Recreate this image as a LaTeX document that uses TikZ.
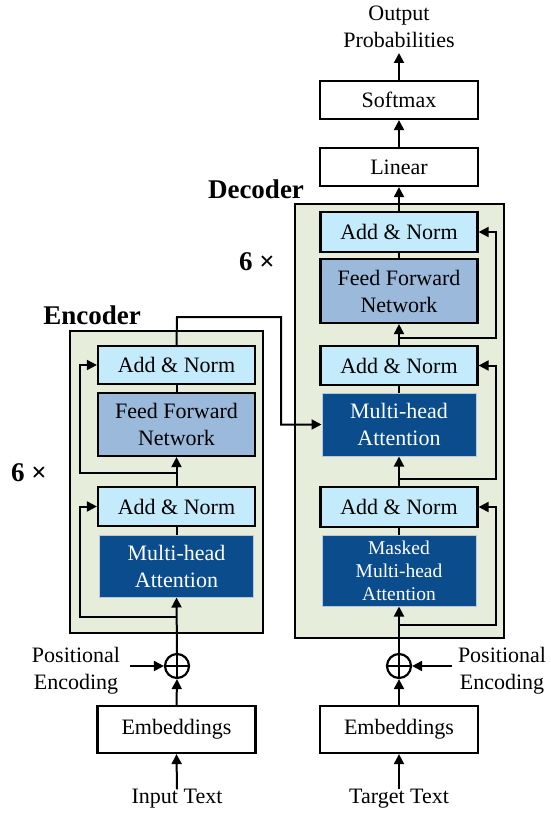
\documentclass[tikz,border=0pt]{standalone}
\usepackage{fontspec}
\setmainfont{Liberation Serif}
\usetikzlibrary{arrows.meta}
\definecolor{bggreen}{HTML}{E6EEDB}
\definecolor{ancyan}{HTML}{C4EBFB}
\definecolor{ffblue}{HTML}{9BBADB}
\definecolor{mhablue}{HTML}{0A4C8C}
\definecolor{mhaedge}{HTML}{B9C9DB}
\tikzset{
  txt/.style={font=\fontsize{22}{27}\selectfont, align=center, inner sep=0pt},
  boldlbl/.style={font=\fontsize{27}{30}\selectfont\bfseries, inner sep=0pt},
  plainbox/.style={draw=black, line width=2.2pt, fill=white, minimum width=158pt, txt},
  anbox/.style={draw=black, line width=2.2pt, fill=ancyan, minimum width=157pt, txt},
  ffbox/.style={draw=black, line width=2.2pt, fill=ffblue, minimum width=157pt, txt},
  mhabox/.style={draw=mhaedge, line width=1pt, fill=mhablue, text=white, minimum width=154pt, txt},
  outerbox/.style={draw=black, line width=2pt, fill=bggreen},
  addc/.style={circle, draw=black, line width=2.2pt, fill=white, minimum size=24pt, inner sep=0pt},
  arr/.style={line width=2pt, -{Triangle[length=10pt,width=10pt]}},
  ln/.style={line width=2pt},
}
\begin{document}
\begin{tikzpicture}[x=1pt,y=-1pt]
\useasboundingbox (0,0) rectangle (550,816);
% outer blocks
\draw[outerbox] (70,331) rectangle (263,633);
\draw[outerbox] (295,204) rectangle (504,638);
% encoder nodes
\node[anbox, minimum height=38pt] (eAN2) at (176.5,365) {Add \& Norm};
\node[ffbox, minimum height=63pt] (eFF) at (176.5,424.5) {Feed Forward\\Network};
\node[anbox, minimum height=39pt] (eAN1) at (176.5,506.5) {Add \& Norm};
\node[mhabox, minimum height=62pt] (eMHA) at (176.5,566) {Multi-head\\Attention};
\node[addc] (eAdd) at (177,666) {};
\draw[line width=2.2pt] (eAdd.north) -- (eAdd.south) (eAdd.west) -- (eAdd.east);
\node[plainbox, minimum height=47pt] (eEmb) at (176.5,729.5) {Embeddings};
\node[txt] (inp) at (177,799) {Input Text};
\node[txt] (peL) at (76,671) {Positional\\Encoding};
% decoder nodes
\node[anbox, minimum height=40pt] (dAN3) at (399,232) {Add \& Norm};
\node[ffbox, minimum height=64pt] (dFF) at (399,291) {Feed Forward\\Network};
\node[anbox, minimum height=39pt] (dAN2) at (399,365.5) {Add \& Norm};
\node[mhabox, minimum height=63pt] (dMHA) at (399,424.5) {Multi-head\\Attention};
\node[anbox, minimum height=40pt] (dAN1) at (399,507) {Add \& Norm};
\node[mhabox, minimum height=71pt, font=\fontsize{19.5}{23}\selectfont] (dMMHA) at (399,570.5) {Masked\\Multi-head\\Attention};
\node[addc] (dAdd) at (399,666) {};
\draw[line width=2.2pt] (dAdd.north) -- (dAdd.south) (dAdd.west) -- (dAdd.east);
\node[plainbox, minimum height=47pt] (dEmb) at (399,729.5) {Embeddings};
\node[txt] (tgt) at (399,799) {Target Text};
\node[txt] (peR) at (502,671) {Positional\\Encoding};
\node[plainbox, minimum height=38pt] (lin) at (399,167) {Linear};
\node[plainbox, minimum height=38pt] (soft) at (399,100) {Softmax};
\node[txt] (outp) at (399,27) {Output\\Probabilities};
% labels
\node[boldlbl] (encL) at (92,315) {Encoder};
\node[boldlbl] (decL) at (256,189) {Decoder};
\node[boldlbl] (encN) at (29,473) {6 ×};
\node[boldlbl] (decN) at (257,262) {6 ×};
% coordinates
\coordinate (eR1) at (177,617);
\coordinate (eR1c) at (80,617);
\coordinate (eR2) at (177,473);
\coordinate (eR2c) at (80,473);
\coordinate (eOutA) at (177,317);
\coordinate (eOutB) at (281,317);
\coordinate (dR1) at (399,625);
\coordinate (dR1c) at (496,625);
\coordinate (dR2) at (399,479);
\coordinate (dR2c) at (496,479);
\coordinate (dR3) at (399,338);
\coordinate (dR3c) at (496,338);
\coordinate (peLs) at (130,666);
\coordinate (peRs) at (452,666);
\coordinate (outTip) at (399,53);
% encoder connectors
\draw[arr] (inp.north) -- (eEmb.south);
\draw[arr] (eEmb.north) -- (eAdd.south);
\draw[arr] (peLs) -- (eAdd.west);
\draw[arr] (eAdd.north) -- (eMHA.south);
\draw[arr] (eR1) -- (eR1c) |- (eAN1.west);
\draw[ln] (eMHA.north) -- (eAN1.south);
\draw[arr] (eAN1.north) -- (eFF.south);
\draw[arr] (eR2) -- (eR2c) |- (eAN2.west);
\draw[ln] (eFF.north) -- (eAN2.south);
\draw[arr] (eAN2.north) -- (eOutA) -- (eOutB) |- (dMHA.west);
% decoder connectors
\draw[arr] (tgt.north) -- (dEmb.south);
\draw[arr] (dEmb.north) -- (dAdd.south);
\draw[arr] (peRs) -- (dAdd.east);
\draw[arr] (dAdd.north) -- (dMMHA.south);
\draw[arr] (dR1) -- (dR1c) |- (dAN1.east);
\draw[ln] (dMMHA.north) -- (dAN1.south);
\draw[arr] (dAN1.north) -- (dMHA.south);
\draw[arr] (dR2) -- (dR2c) |- (dAN2.east);
\draw[ln] (dMHA.north) -- (dAN2.south);
\draw[arr] (dAN2.north) -- (dFF.south);
\draw[arr] (dR3) -- (dR3c) |- (dAN3.east);
\draw[ln] (dFF.north) -- (dAN3.south);
\draw[arr] (dAN3.north) -- (lin.south);
\draw[arr] (lin.north) -- (soft.south);
\draw[arr] (soft.north) -- (outTip);
\end{tikzpicture}
\end{document}
